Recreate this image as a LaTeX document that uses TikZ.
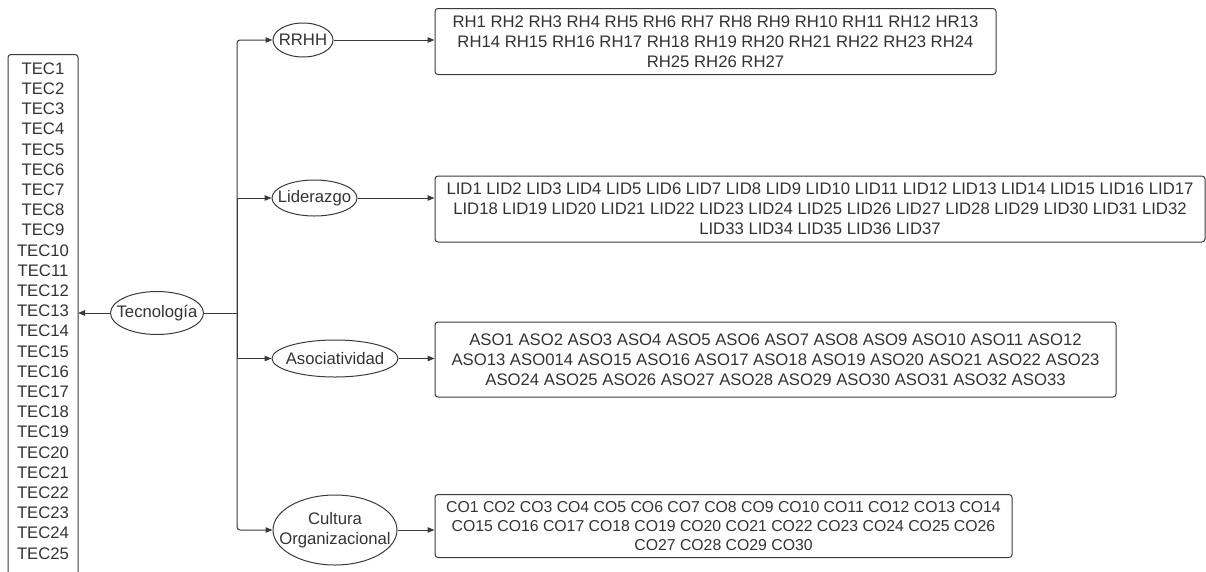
\documentclass[tikz,border=0pt]{standalone}
\usepackage{fontspec}
\setmainfont{Liberation Sans}
\usetikzlibrary{shapes.geometric,arrows.meta}
\definecolor{ink}{HTML}{3A3A3A}
\definecolor{txt}{HTML}{333333}
\tikzset{
  every node/.style={text=txt, font=\fontsize{16.7}{20.2}\selectfont},
  listbox/.style={draw=ink, line width=1pt, rounded corners=3pt, align=center, inner sep=0pt},
  oval/.style={ellipse, draw=ink, line width=1pt, inner sep=0pt},
  ovaltext/.style={label={[align=center, inner sep=0pt]center:#1}},
  link/.style={draw=ink, line width=1pt, -{Triangle[length=7pt,width=5.5pt]}},
  plain/.style={draw=ink, line width=1pt},
}
\begin{document}
\begin{tikzpicture}[x=1pt,y=-1pt]
\useasboundingbox (0,0) rectangle (1206,571);
% TEC column box (cut off at the bottom)
\node[listbox, minimum width=70, minimum height=560, anchor=north] (tecbox) at (43,54) {};
\node[anchor=north, align=center, inner sep=0pt] (tectext) at (43,62.5) {TEC1\\TEC2\\TEC3\\TEC4\\TEC5\\TEC6\\TEC7\\TEC8\\TEC9\\TEC10\\TEC11\\TEC12\\TEC13\\TEC14\\TEC15\\TEC16\\TEC17\\TEC18\\TEC19\\TEC20\\TEC21\\TEC22\\TEC23\\TEC24\\TEC25};
\coordinate (tecin) at (78,313);
% central ellipse
\node[oval, minimum width=93, minimum height=43, ovaltext={Tecnología}] (tec) at (157,313) {};
\coordinate (j) at (237,313);
% category ellipses
\node[oval, minimum width=60, minimum height=34, ovaltext={RRHH}] (rrhh) at (303,40) {};
\node[oval, minimum width=85, minimum height=36, ovaltext={Liderazgo}] (lid) at (314.5,198) {};
\node[oval, minimum width=126, minimum height=37, ovaltext={Asociatividad}] (aso) at (335,358.5) {};
\node[oval, minimum width=124, minimum height=70, ovaltext={Cultura\\Organizacional}] (co) at (335,530) {};
% item boxes
\node[listbox, minimum width=561, minimum height=66] (rhbox) at (715.5,41.5)
 {RH1 RH2 RH3 RH4 RH5 RH6 RH7 RH8 RH9 RH10 RH11 RH12 HR13\\RH14 RH15 RH16 RH17 RH18 RH19 RH20 RH21 RH22 RH23 RH24\\RH25 RH26 RH27};
\node[listbox, minimum width=770, minimum height=66] (lidbox) at (820,209)
 {LID1 LID2 LID3 LID4 LID5 LID6 LID7 LID8 LID9 LID10 LID11 LID12 LID13 LID14 LID15 LID16 LID17\\LID18 LID19 LID20 LID21 LID22 LID23 LID24 LID25 LID26 LID27 LID28 LID29 LID30 LID31 LID32\\LID33 LID34 LID35 LID36 LID37};
\node[listbox, minimum width=681, minimum height=75] (asobox) at (775.5,359.5)
 {ASO1 ASO2 ASO3 ASO4 ASO5 ASO6 ASO7 ASO8 ASO9 ASO10 ASO11 ASO12\\ASO13 ASO014 ASO15 ASO16 ASO17 ASO18 ASO19 ASO20 ASO21 ASO22 ASO23\\ASO24 ASO25 ASO26 ASO27 ASO28 ASO29 ASO30 ASO31 ASO32 ASO33};
\node[listbox, minimum width=577, minimum height=63, font=\fontsize{15.8}{19}\selectfont] (cobox) at (723.5,526)
 {CO1 CO2 CO3 CO4 CO5 CO6 CO7 CO8 CO9 CO10 CO11 CO12 CO13 CO14\\CO15 CO16 CO17 CO18 CO19 CO20 CO21 CO22 CO23 CO24 CO25 CO26\\CO27 CO28 CO29 CO30};
% connectors
\draw[link] (tec.west) -- (tecin);
\draw[plain] (tec.east) -- (j);
\draw[link, rounded corners=3pt] (j) |- (rrhh.west);
\draw[link] (j) |- (lid.west);
\draw[link] (j) |- (aso.west);
\draw[link, rounded corners=3pt] (j) |- (co.west);
\draw[link] (rrhh.east) -- (rhbox.west |- rrhh.east);
\draw[link] (lid.east) -- (lidbox.west |- lid.east);
\draw[link] (aso.east) -- (asobox.west |- aso.east);
\draw[link] (co.east) -- (cobox.west |- co.east);
\end{tikzpicture}
\end{document}
